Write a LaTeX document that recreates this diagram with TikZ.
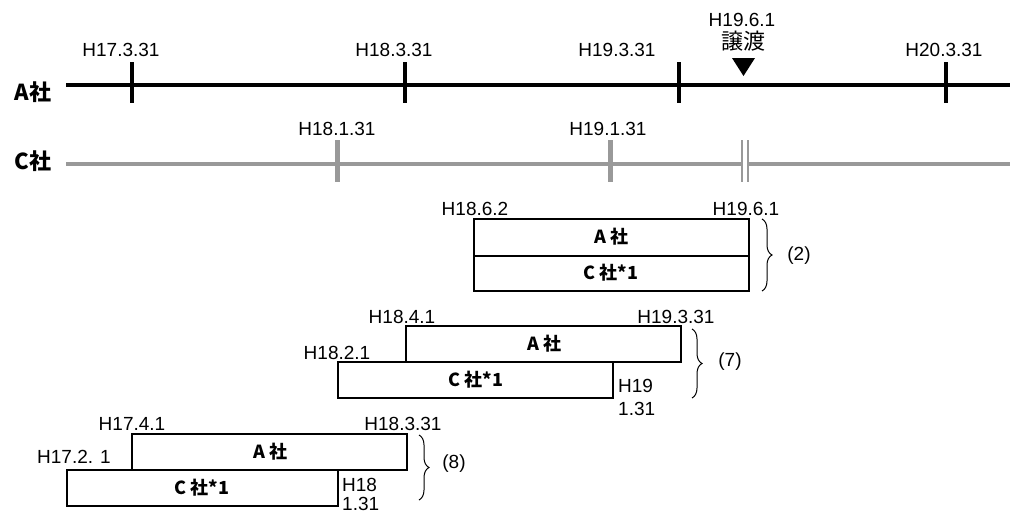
\documentclass[tikz,border=0pt]{standalone}
\usepackage{fontspec}
\setmainfont{Liberation Sans}
\newfontfamily\jp{Noto Sans CJK JP}
\usetikzlibrary{decorations.pathreplacing}
\begin{document}
\begin{tikzpicture}[x=1pt,y=-1pt,
  lbl/.style={inner sep=0pt,font=\fontsize{19}{21}\selectfont},
  rowlbl/.style={inner sep=0pt,font=\jp\bfseries\fontsize{22}{24}\selectfont},
  boxtxt/.style={inner sep=0pt,font=\jp\bfseries\fontsize{18}{20}\selectfont},
  aline/.style={line width=4pt,black},
  cline/.style={line width=4pt,black!40},
  ctick/.style={line width=5pt,black!40},
  period/.style={draw,line width=1.3pt,fill=white},
  brc/.style={decorate,decoration={brace,amplitude=10pt},line width=1pt},
  tri/.style={fill=black}]
\useasboundingbox (0,0) rectangle (1010,515);
% row labels
\node[rowlbl] (la) at (33,92) {A社};
\node[rowlbl] (lc) at (33,161) {C社};
% A line
\coordinate (a0) at (66,85); \coordinate (a1) at (1010,85);
\draw[aline] (a0) -- (a1);
\foreach \x in {132,405,679,946}{
  \draw[line width=4pt] (\x,62) -- (\x,103);
}
\node[lbl] (t1) at (121,50) {H17.3.31};
\node[lbl] (t2) at (394,50) {H18.3.31};
\node[lbl] (t3) at (617,50) {H19.3.31};
\node[lbl] (t4) at (944,50) {H20.3.31};
\node[lbl] (t5) at (742,20) {H19.6.1};
\node[inner sep=0pt,font=\jp\fontsize{22}{24}\selectfont] (jt) at (743,41) {譲渡};
\fill[tri] (732,58) -- (755,58) -- (743.5,76) -- cycle;
% C line
\coordinate (c0) at (66,164); \coordinate (c1) at (742,164);
\coordinate (c2) at (748,164); \coordinate (c3) at (1010,164);
\draw[cline] (c0) -- (c1);
\draw[cline] (c2) -- (c3);
\draw[ctick] (337,140) -- (337,182);
\draw[ctick] (610,140) -- (610,182);
\draw[line width=2pt,black!40] (742,140) -- (742,182);
\draw[line width=2pt,black!40] (748,140) -- (748,182);
\node[lbl] (u1) at (337,129) {H18.1.31};
\node[lbl] (u2) at (608,129) {H19.1.31};
% Box (2)
\draw[period] (474,219) rectangle (749,256);
\draw[period] (474,256) rectangle (749,291);
\node[boxtxt] (b2a) at (611,237) {A 社};
\node[boxtxt] (b2c) at (611,273) {C 社*1};
\node[lbl] (b2l) at (475,209) {H18.6.2};
\node[lbl] (b2r) at (746,209) {H19.6.1};
\draw[brc] (762,219) -- (762,291);
\node[lbl] (p2) at (799,256) {(2)};
% Box (7)
\draw[period] (406,326) rectangle (681,362);
\draw[period] (338,362) rectangle (613,398);
\node[boxtxt] (b7a) at (544,344) {A 社};
\node[boxtxt] (b7c) at (476,380) {C 社*1};
\node[lbl] (b7l) at (402,317) {H18.4.1};
\node[lbl] (b7r) at (676,317) {H19.3.31};
\node[lbl] (b7cl) at (337,353) {H18.2.1};
\node[lbl,anchor=west] (b7cr1) at (618,386) {H19};
\node[lbl,anchor=west] (b7cr2) at (618,409) {1.31};
\draw[brc] (692,329) -- (692,398);
\node[lbl] (p7) at (730,362) {(7)};
% Box (8)
\draw[period] (132,434) rectangle (407,470);
\draw[period] (67,470) rectangle (338,506);
\node[boxtxt] (b8a) at (270,452) {A 社};
\node[boxtxt] (b8c) at (202,488) {C 社*1};
\node[lbl] (b8l) at (132,424) {H17.4.1};
\node[lbl] (b8r) at (403,424) {H18.3.31};
\node[lbl] (b8cl) at (74,457) {H17.2. 1};
\node[lbl,anchor=west] (b8cr1) at (342,485) {H18};
\node[lbl,anchor=west] (b8cr2) at (342,504) {1.31};
\draw[brc] (419,435) -- (419,500);
\node[lbl] (p8) at (454,464) {(8)};
\end{tikzpicture}
\end{document}
